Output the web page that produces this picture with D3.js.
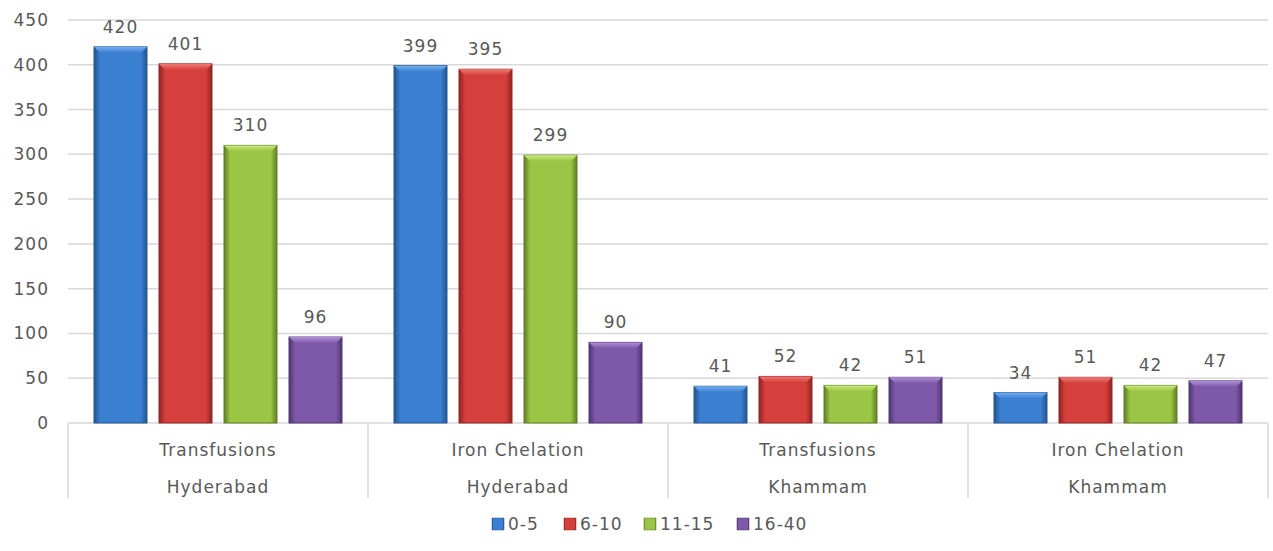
<!DOCTYPE html>
<html>
<head>
<meta charset="utf-8">
<script src="https://cdn.jsdelivr.net/npm/d3@7"></script>
<style>
  body { margin: 0; background: #fff; }
  text { font-family: "DejaVu Sans", sans-serif; fill: #595959; font-size: 17px; letter-spacing: 1px; }
</style>
</head>
<body>
<div id="chart"></div>
<script>
// data
const treatments = ["Transfusions", "Iron Chelation", "Transfusions", "Iron Chelation"];
const districts = ["Hyderabad", "Hyderabad", "Khammam", "Khammam"];
const ageGroups = ["0-5", "6-10", "11-15", "16-40"];
const age0to5 = [420, 399, 41, 34];
const age6to10 = [401, 395, 52, 51];
const age11to15 = [310, 299, 42, 42];
const age16to40 = [96, 90, 51, 47];
const yTicks = [0, 50, 100, 150, 200, 250, 300, 350, 400, 450];

const seriesValues = [age0to5, age6to10, age11to15, age16to40];
const colors = [
  { base: "#3b7fd1", light: "#74aef0", dark: "#24558f" },
  { base: "#d53f3c", light: "#f07a76", dark: "#8e2523" },
  { base: "#9bc544", light: "#c9ea7d", dark: "#607f25" },
  { base: "#7f59a9", light: "#b08fd8", dark: "#4f3570" }
];

const W = 1273, H = 551;
const margin = { top: 20, right: 5, bottom: 128, left: 68 };
const width = W - margin.left - margin.right;
const height = H - margin.top - margin.bottom;

const svg = d3.select("#chart")
  .append("svg")
    .attr("width", W)
    .attr("height", H);

const defs = svg.append("defs");
colors.forEach((c, i) => {
  const g = defs.append("linearGradient")
    .attr("id", "grad" + i)
    .attr("x1", "0").attr("x2", "1").attr("y1", "0").attr("y2", "0");
  g.append("stop").attr("offset", "0%").attr("stop-color", c.dark);
  g.append("stop").attr("offset", "12%").attr("stop-color", c.base);
  g.append("stop").attr("offset", "88%").attr("stop-color", c.base);
  g.append("stop").attr("offset", "100%").attr("stop-color", c.dark);
  const t = defs.append("linearGradient")
    .attr("id", "top" + i)
    .attr("x1", "0").attr("x2", "0").attr("y1", "0").attr("y2", "1");
  t.append("stop").attr("offset", "0%").attr("stop-color", c.light);
  t.append("stop").attr("offset", "100%").attr("stop-color", c.base);
});

const g = svg.append("g")
  .attr("transform", `translate(${margin.left},${margin.top})`);

const cats = d3.range(treatments.length);

const x0 = d3.scaleBand()
  .domain(cats)
  .range([0, width]);

const x1 = d3.scaleBand()
  .domain(d3.range(ageGroups.length))
  .range([0, x0.bandwidth()])
  .paddingInner(0.185)
  .paddingOuter(0.4);

const y = d3.scaleLinear()
  .domain([0, 450])
  .range([height, 0]);

// gridlines
g.append("g")
  .selectAll("line")
  .data(yTicks)
  .join("line")
    .attr("x1", 0)
    .attr("x2", width)
    .attr("y1", d => y(d))
    .attr("y2", d => y(d))
    .attr("stroke", "#d9d9d9")
    .attr("stroke-width", 1.5);

// y labels
g.append("g")
  .selectAll("text")
  .data(yTicks)
  .join("text")
    .attr("x", -19)
    .attr("y", d => y(d))
    .attr("dy", "0.35em")
    .attr("text-anchor", "end")
    .text(d => d);

// category axis boxes
const axisH = 75;
g.append("g")
  .selectAll("line")
  .data(d3.range(treatments.length + 1))
  .join("line")
    .attr("x1", d => d * x0.step())
    .attr("x2", d => d * x0.step())
    .attr("y1", height)
    .attr("y2", height + axisH)
    .attr("stroke", "#d9d9d9")
    .attr("stroke-width", 1.5);

g.append("g")
  .selectAll("text")
  .data(cats)
  .join("text")
    .attr("x", d => x0(d) + x0.bandwidth() / 2)
    .attr("y", height + 27)
    .attr("dy", "0.35em")
    .attr("text-anchor", "middle")
    .text(d => treatments[d]);

g.append("g")
  .selectAll("text")
  .data(cats)
  .join("text")
    .attr("x", d => x0(d) + x0.bandwidth() / 2)
    .attr("y", height + 64)
    .attr("dy", "0.35em")
    .attr("text-anchor", "middle")
    .text(d => districts[d]);

// bars
const barData = [];
seriesValues.forEach((vals, s) => {
  vals.forEach((v, c) => barData.push({ s, c, v }));
});

const bars = g.append("g")
  .selectAll("g")
  .data(barData)
  .join("g")
    .attr("transform", d => `translate(${x0(d.c) + x1(d.s)},0)`);

bars.append("rect")
  .attr("x", 0)
  .attr("y", d => y(d.v))
  .attr("width", x1.bandwidth())
  .attr("height", d => height - y(d.v))
  .attr("fill", d => `url(#grad${d.s})`)
  .attr("stroke", d => colors[d.s].dark)
  .attr("stroke-width", 1);

// top bevel
const bev = 6;
bars.append("path")
  .attr("d", d => {
    const w = x1.bandwidth(), t = y(d.v);
    return `M0,${t} L${w},${t} L${w - bev},${t + bev} L${bev},${t + bev} Z`;
  })
  .attr("fill", d => `url(#top${d.s})`);

// value labels
bars.append("text")
  .attr("x", x1.bandwidth() / 2)
  .attr("y", d => y(d.v) - 20)
  .attr("dy", "0.35em")
  .attr("text-anchor", "middle")
  .text(d => d.v);

// legend
const legendX = [492, 564, 644, 737];
const legend = svg.append("g")
  .selectAll("g")
  .data(ageGroups)
  .join("g")
    .attr("transform", (d, i) => `translate(${legendX[i]},524)`);

legend.append("rect")
  .attr("x", 0)
  .attr("y", -6)
  .attr("width", 12)
  .attr("height", 12)
  .attr("fill", (d, i) => `url(#grad${i})`)
  .attr("stroke", (d, i) => colors[i].dark)
  .attr("stroke-width", 0.5);

legend.append("text")
  .attr("x", 16)
  .attr("y", 0)
  .attr("dy", "0.35em")
  .text(d => d);
</script>
</body>
</html>
